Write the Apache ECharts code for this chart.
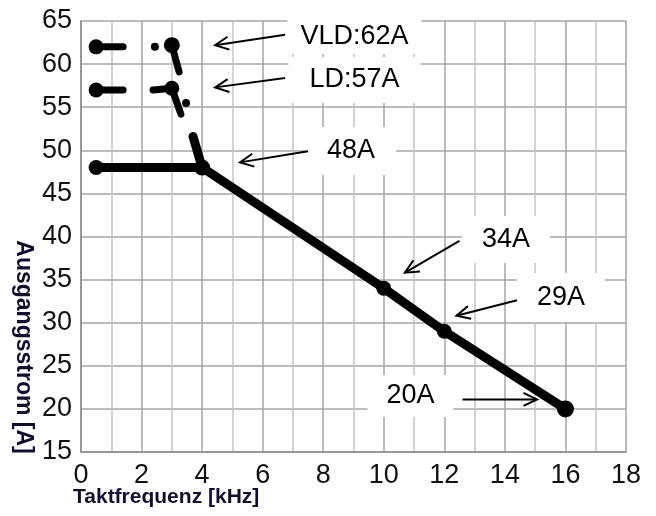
<!DOCTYPE html>
<html><head><meta charset="utf-8">
<script src="https://cdn.jsdelivr.net/npm/echarts@6/dist/echarts.min.js"></script>
<style>html,body{margin:0;padding:0;background:#fff}#c{width:656px;height:516px}</style>
</head><body><div id="c"></div>
<script>
// ---- data ----
const xTicks = [0, 2, 4, 6, 8, 10, 12, 14, 16, 18];
const yTicks = [15, 20, 25, 30, 35, 40, 45, 50, 55, 60, 65];
const mainX = [0.5, 4, 10, 12, 16];
const mainY = [48, 48, 34, 29, 20];
const vldDashX = [0.5, 1.39];
const vldDashY = [62, 62];
const ldDashX = [0.5, 1.39];
const ldDashY = [57, 57];
const vldBitX = [3.0, 3.24];
const vldBitY = [62.2, 59.1];
const ldBitX = [2.38, 3.0, 3.3];
const ldBitY = [57.0, 57.2, 54.2];
const dropX = [3.7, 4.0];
const dropY = [51.6, 48];
const smallDotX = [2.44, 3.47];
const smallDotY = [62, 55.5];
const labelTexts = ['VLD:62A', 'LD:57A', '48A', '34A', '29A', '20A'];
const labelX = [9.03, 9.03, 8.92, 14.04, 15.85, 10.88];
const labelY = [63.2, 58.16, 49.92, 39.65, 32.92, 21.5];
const arrowFromX = [6.74, 6.74, 7.5, 12.5, 14.4, 12.6];
const arrowFromY = [63.4, 58.4, 49.9, 39.5, 32.6, 21.1];
const arrowToX = [4.43, 4.43, 5.25, 10.7, 12.4, 15.06];
const arrowToY = [62.2, 57.3, 48.6, 35.8, 30.8, 21.1];
const xTitle = 'Taktfrequenz [kHz]';
const yTitle = 'Ausgangsstrom [A]';

// ---- styles ----
const labelPadding = [[4, 13, 4, 13], [14, 21, 5, 21], [12, 21, 9, 21], [14, 20, 6, 20], [14, 20, 8, 20], [8, 19, 7, 19]];
const FONT = 'Liberation Sans, Arial, sans-serif';

const pairs = (xs, ys) => xs.map((x, i) => [x, ys[i]]);

function segSeries(xs, ys, width, sizes) {
  return {
    type: 'line', data: pairs(xs, ys), z: 5,
    lineStyle: { color: '#000', width: width, cap: 'round' },
    itemStyle: { color: '#000', opacity: 1 },
    symbol: 'circle',
    symbolSize: (v, p) => sizes[p.dataIndex],
    showSymbol: true, animation: false, silent: true
  };
}

const chart = echarts.init(document.getElementById('c'), null, { renderer: 'canvas' });
const option = {
  animation: false,
  backgroundColor: '#fff',
  grid: { left: 81, right: 30, top: 21, bottom: 64 },
  xAxis: {
    type: 'value', min: xTicks[0], max: xTicks[xTicks.length - 1], interval: 2,
    axisLine: { show: true, lineStyle: { color: '#8a8a8a', width: 1.5 } },
    axisTick: { show: false },
    axisLabel: { color: '#111', fontSize: 27, fontFamily: FONT, margin: 10 },
    splitLine: { show: true, lineStyle: { color: '#a6a6a6', width: 1.5 } },
    minorTick: { show: false, splitNumber: 2 },
    minorSplitLine: { show: true, lineStyle: { color: '#c4c4c4', width: 1.5 } }
  },
  yAxis: {
    type: 'value', min: yTicks[0], max: yTicks[yTicks.length - 1], interval: 5,
    axisLine: { show: true, lineStyle: { color: '#8a8a8a', width: 1.5 } },
    axisTick: { show: false },
    axisLabel: { color: '#111', fontSize: 27, fontFamily: FONT, margin: 9 },
    splitLine: { show: true, lineStyle: { color: '#a6a6a6', width: 1.5 } }
  },
  graphic: [
    { type: 'text', x: 73, y: 497, silent: true,
      style: { text: xTitle, font: 'bold 21px ' + FONT, fill: '#10102e', align: 'left', verticalAlign: 'middle' } },
    { type: 'text', x: 23, y: 347, rotation: -Math.PI / 2, silent: true,
      style: { text: yTitle, font: 'bold 23px ' + FONT, fill: '#10102e', align: 'center', verticalAlign: 'middle' } }
  ],
  series: [
    {
      type: 'scatter', z: 3, silent: true,
      data: labelTexts.map((t, i) => ({
        value: [labelX[i], labelY[i]], name: t,
        label: { padding: labelPadding[i] }
      })),
      symbolSize: 1, itemStyle: { color: 'rgba(0,0,0,0)', opacity: 1 },
      label: {
        show: true, position: 'inside', formatter: p => p.name,
        color: '#000', opacity: 1, fontSize: 27, fontFamily: FONT, lineHeight: 27,
        backgroundColor: '#fff'
      }
    },
    {
      type: 'custom', z: 4, silent: true,
      data: arrowFromX.map((x, i) => [x, arrowFromY[i], arrowToX[i], arrowToY[i]]),
      encode: { x: [0, 2], y: [1, 3] },
      renderItem: function (params, api) {
        const a = api.coord([api.value(0), api.value(1)]);
        const b = api.coord([api.value(2), api.value(3)]);
        const ang = Math.atan2(b[1] - a[1], b[0] - a[0]);
        const L = 15, spread = 0.45;
        const h1 = [b[0] - L * Math.cos(ang - spread), b[1] - L * Math.sin(ang - spread)];
        const h2 = [b[0] - L * Math.cos(ang + spread), b[1] - L * Math.sin(ang + spread)];
        const st = { stroke: '#000', lineWidth: 2, fill: null };
        return {
          type: 'group', children: [
            { type: 'line', shape: { x1: a[0], y1: a[1], x2: b[0], y2: b[1] }, style: st },
            { type: 'polyline', shape: { points: [h1, b, h2] }, style: st }
          ]
        };
      }
    },
    segSeries(mainX, mainY, 9, [15, 16, 15, 15, 17]),
    segSeries(vldDashX, vldDashY, 7, [15, 0]),
    segSeries(ldDashX, ldDashY, 7, [15, 0]),
    segSeries(vldBitX, vldBitY, 7, [16, 0]),
    segSeries(ldBitX, ldBitY, 7, [0, 15, 0]),
    segSeries(dropX, dropY, 9, [0, 0]),
    {
      type: 'scatter', z: 6, silent: true, data: pairs(smallDotX, smallDotY),
      symbolSize: 8, itemStyle: { color: '#000', opacity: 1 }
    }
  ]
};
chart.setOption(option);
</script></body></html>
